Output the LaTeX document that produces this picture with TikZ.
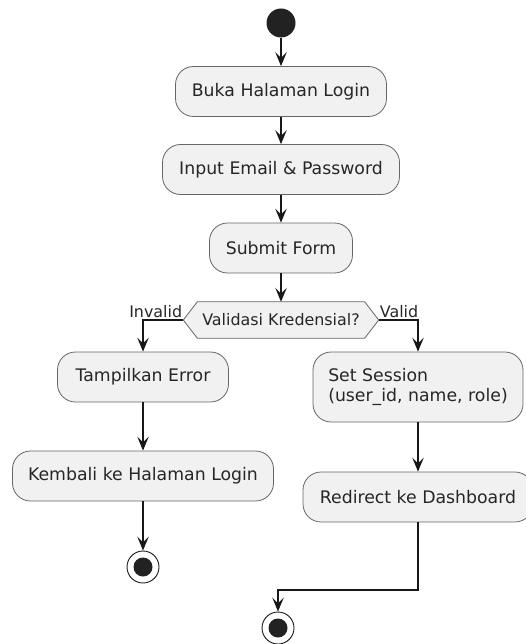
\documentclass[tikz,border=0pt]{standalone}
\usepackage{fontspec}
\setmainfont{DejaVu Sans}
\usetikzlibrary{arrows.meta,backgrounds}
\definecolor{actfill}{HTML}{F1F1F1}
\definecolor{linecol}{HTML}{181818}
\definecolor{dotcol}{HTML}{222222}
\tikzset{
	act/.style={draw=black!60, fill=actfill, line width=0.8pt, rounded corners=18pt, inner sep=0pt, minimum height=50pt, text=black!85, font=\fontsize{17.3}{20.5}\selectfont},
	dec/.style={inner sep=0pt, minimum width=195pt, minimum height=36pt, text=black!85, font=\fontsize{15.9}{18}\selectfont},
	lbl/.style={inner sep=1pt, text=black!85, font=\fontsize{15.9}{18}\selectfont},
	flow/.style={draw=linecol, line width=1.3pt, -{Stealth[length=14pt, width=11.5pt, inset=5.8pt]}},
	startdot/.style={circle, fill=dotcol, minimum size=29pt, inner sep=0pt},
	enddot/.style={circle, draw=linecol, fill=white, line width=0.9pt, minimum size=32pt, inner sep=0pt, path picture={\fill[dotcol] (path picture bounding box.center) circle (9.5pt);}}
}
\begin{document}
\begin{tikzpicture}[x=1pt, y=-1pt]
		%%%%% START %%%%%
		\useasboundingbox (0, 0) rectangle (526, 644);
		
		\node[startdot] (start) at (281, 23) {};
		\node[act, minimum width=211pt] (buka) at (281, 91.5) {Buka Halaman Login};
		\node[act, minimum width=237pt] (input) at (281, 169.5) {Input Email \& Password};
		\node[act, minimum width=143pt] (submit) at (281, 248) {Submit Form};
		
		\node[dec] (valid) at (281, 320) {Validasi Kredensial?};
		\begin{pgfonlayer}{background}
			\draw[draw=black!60, fill=actfill, line width=0.8pt] (valid.west) -- ([xshift=14pt]valid.north west) -- ([xshift=-14pt]valid.north east) -- (valid.east) -- ([xshift=-14pt]valid.south east) -- ([xshift=14pt]valid.south west) -- cycle;
		\end{pgfonlayer}
		\node[lbl, anchor=south east] (invalidlbl) at ([yshift=1pt]valid.west) {Invalid};
		\node[lbl, anchor=south west] (validlbl) at ([yshift=1pt]valid.east) {Valid};
		
		\node[act, minimum width=171pt] (error) at (143, 377) {Tampilkan Error};
		\node[act, minimum width=261pt] (back) at (143, 476) {Kembali ke Halaman Login};
		\node[enddot] (endleft) at (143, 567) {};
		
		\node[act, minimum height=70pt, minimum width=210pt, align=left] (session) at (418, 387) {Set Session\\(user\_id, name, role)};
		\node[act, minimum width=230pt] (redirect) at (418, 497) {Redirect ke Dashboard};
		\coordinate (merge) at (418, 590);
		\node[enddot] (endright) at (278, 628) {};
		
		\draw[flow] (start) -- (buka);
		\draw[flow] (buka) -- (input);
		\draw[flow] (input) -- (submit);
		\draw[flow] (submit) -- (valid);
		\draw[flow] (valid.west) -| (error.north);
		\draw[flow] (valid.east) -| (session.north);
		\draw[flow] (error) -- (back);
		\draw[flow] (back) -- (endleft);
		\draw[flow] (session) -- (redirect);
		\draw[flow] (redirect.south) -- (merge) -| (endright.north);
		
		%%%%% END %%%%%
	\end{tikzpicture}
\end{document}
